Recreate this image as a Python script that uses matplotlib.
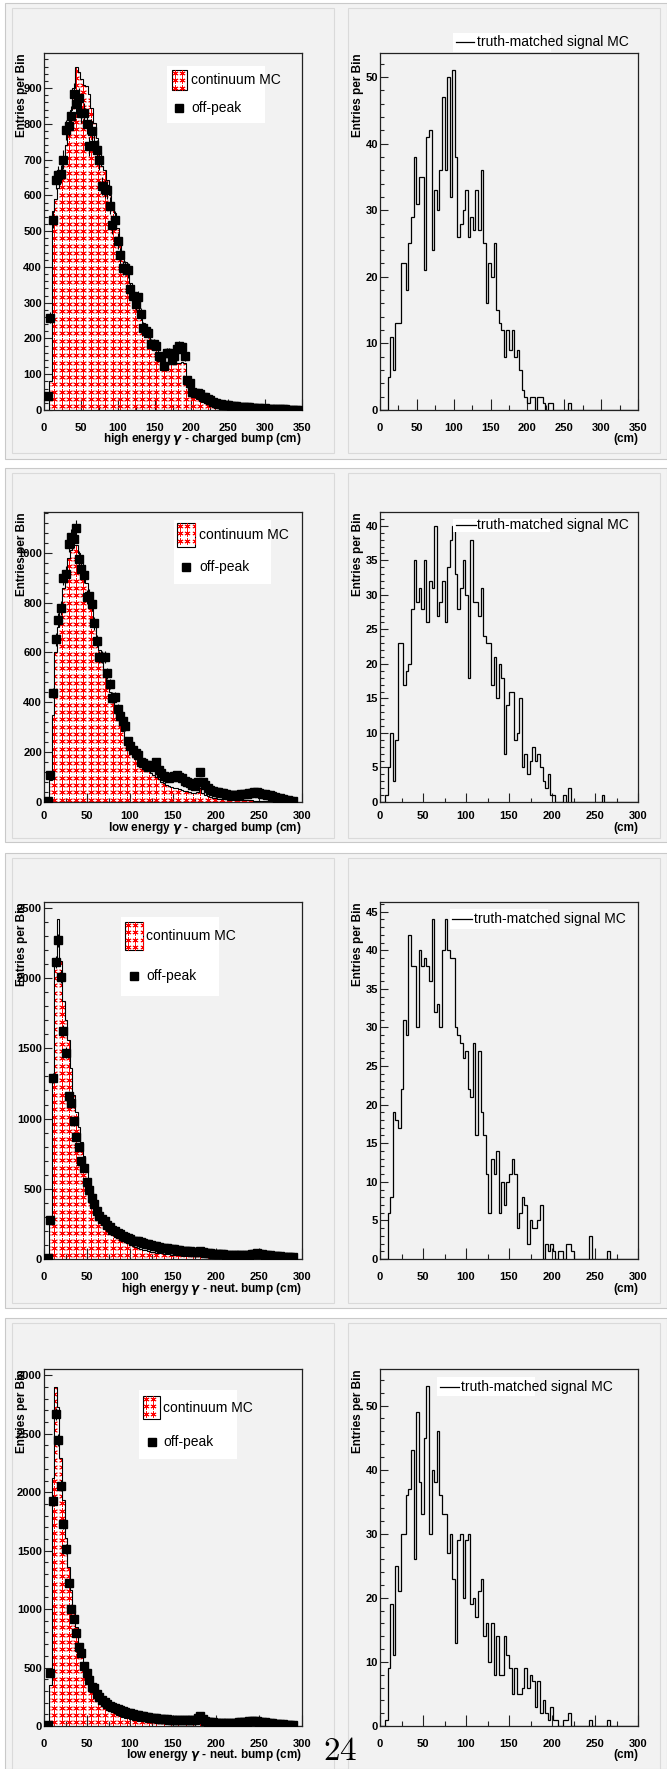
import numpy as np
import matplotlib
matplotlib.use("Agg")
import matplotlib.pyplot as plt
from matplotlib.patches import Rectangle
from matplotlib.lines import Line2D
from matplotlib.ticker import MultipleLocator

W, H = 667, 1769  # output size in pixels (dpi 100)

# ---------------------------------------------------------------
# Entries per bin (100 bins each)
# ---------------------------------------------------------------
# high energy gamma - charged bump (0-350 cm, 3.5 cm bins)
hi_chg_mc = [0, 0, 80, 555, 590, 620, 657, 695, 742, 790,
             840, 900, 958, 944, 925, 909, 905, 883, 845, 803,
             760, 720, 681, 671, 643, 601, 580, 550, 510, 475,
             445, 415, 385, 355, 330, 305, 285, 262, 242, 225,
             210, 195, 183, 170, 160, 150, 142, 135, 130, 128,
             128, 130, 132, 135, 132, 65, 50, 42, 36, 31,
             27, 23, 20, 17, 15, 13, 11, 10, 9, 8,
             7, 6, 6, 5, 5, 4, 4, 3, 3, 3,
             3, 2, 2, 2, 2, 2, 1, 1, 1, 1,
             1, 1, 1, 1, 0, 0, 0, 0, 0, 0]
hi_chg_offpeak = [0, 38, 258, 532, 642, 657, 660, 700, 784, 795,
                  822, 884, 856, 871, 831, 830, 800, 737, 779, 742,
                  728, 698, 626, 618, 616, 571, 516, 532, 472, 432,
                  396, 396, 390, 338, 319, 296, 316, 268, 230, 220,
                  216, 185, 185, 180, 150, 148, 122, 160, 160, 140,
                  150, 170, 180, 175, 150, 85, 75, 50, 47, 48,
                  44, 35, 35, 30, 28, 22, 20, 18, 16, 15,
                  14, 13, 12, 10, 10, 9, 8, 8, 7, 7,
                  6, 6, 5, 5, 4, 5, 4, 3, 3, 3,
                  2, 2, 2, 2, 1, 1, 1, 1, 1, 0]
hi_chg_signal = [0, 0, 0, 5, 11, 6, 13, 13, 22, 22,
                 18, 25, 29, 38, 31, 35, 35, 21, 41, 42,
                 24, 33, 30, 36, 47, 36, 50, 32, 51, 38,
                 26, 28, 30, 33, 26, 29, 27, 33, 27, 36,
                 25, 16, 22, 20, 25, 15, 13, 12, 8, 12,
                 9, 12, 8, 9, 6, 3, 2, 1, 2, 2,
                 0, 2, 2, 1, 0, 1, 1, 0, 0, 0,
                 0, 0, 0, 1, 0, 0, 0, 0, 0, 0,
                 0, 0, 0, 0, 0, 0, 0, 0, 0, 0,
                 0, 0, 0, 0, 0, 0, 0, 0, 0, 0]

# low energy gamma - charged bump (0-300 cm, 3 cm bins)
lo_chg_mc = [0, 0, 90, 350, 600, 700, 780, 860, 920, 980,
             1010, 1030, 1030, 1000, 960, 920, 880, 830, 780, 720,
             660, 610, 560, 520, 480, 440, 400, 370, 340, 310,
             285, 260, 240, 220, 200, 185, 170, 155, 145, 135,
             125, 115, 108, 100, 93, 80, 75, 70, 66, 62,
             58, 55, 52, 49, 46, 43, 40, 38, 36, 40,
             55, 38, 30, 25, 20, 18, 16, 14, 13, 12,
             11, 10, 10, 9, 9, 8, 8, 7, 7, 7,
             7, 6, 6, 5, 5, 5, 4, 4, 3, 3,
             3, 2, 2, 2, 1, 1, 1, 0, 0, 0]
lo_chg_offpeak = [0, 5, 109, 436, 653, 729, 779, 900, 916, 1036,
                  1063, 1053, 1099, 975, 936, 909, 823, 825, 793, 716,
                  645, 583, 583, 580, 516, 473, 419, 420, 372, 343,
                  323, 303, 245, 225, 209, 196, 189, 161, 156, 149,
                  140, 150, 140, 160, 130, 115, 105, 100, 95, 100,
                  105, 108, 100, 95, 85, 80, 75, 70, 65, 80,
                  120, 80, 70, 55, 48, 45, 42, 40, 38, 35,
                  33, 30, 30, 30, 30, 30, 32, 32, 34, 36,
                  38, 42, 40, 36, 34, 32, 30, 28, 25, 22,
                  18, 15, 12, 10, 8, 6, 5, 0, 0, 0]
lo_chg_signal = [0, 0, 1, 5, 10, 3, 9, 23, 23, 17,
                 19, 20, 28, 35, 29, 31, 28, 35, 26, 32,
                 31, 40, 27, 29, 32, 26, 34, 38, 40, 33,
                 28, 31, 35, 30, 18, 38, 29, 29, 27, 31,
                 24, 23, 23, 17, 21, 15, 20, 18, 7, 14,
                 16, 16, 9, 10, 15, 5, 7, 4, 6, 8,
                 6, 7, 5, 3, 2, 4, 1, 1, 0, 0,
                 0, 1, 0, 2, 0, 0, 0, 0, 0, 0,
                 0, 0, 0, 0, 0, 0, 1, 0, 0, 0,
                 0, 0, 0, 0, 0, 0, 0, 0, 0, 0]

# high energy gamma - neutral bump
hi_neu_mc = [0, 0, 290, 1277, 2096, 2421, 2120, 1835, 1704, 1562,
             1360, 1170, 1050, 940, 830, 730, 630, 550, 480, 420,
             370, 330, 295, 265, 240, 220, 200, 180, 165, 150,
             135, 125, 115, 105, 96, 88, 80, 73, 67, 62,
             57, 53, 49, 46, 43, 40, 37, 35, 33, 31,
             29, 27, 25, 24, 22, 21, 20, 19, 18, 18,
             20, 17, 15, 14, 13, 12, 11, 11, 10, 10,
             9, 9, 9, 9, 8, 8, 8, 8, 8, 8,
             8, 8, 8, 7, 7, 6, 6, 5, 5, 4,
             4, 3, 3, 3, 2, 2, 2, 1, 1, 1]
hi_neu_offpeak = [0, 5, 275, 1290, 2115, 2270, 2010, 1625, 1470, 1160,
                  1110, 980, 870, 795, 695, 645, 550, 490, 435, 390,
                  340, 305, 285, 270, 240, 225, 210, 200, 185, 175,
                  165, 160, 150, 140, 130, 130, 125, 120, 115, 110,
                  105, 100, 95, 90, 85, 80, 78, 75, 72, 70,
                  68, 65, 62, 60, 58, 56, 54, 52, 50, 52,
                  55, 50, 45, 42, 40, 38, 36, 35, 34, 33,
                  32, 32, 31, 31, 30, 30, 30, 30, 31, 32,
                  33, 35, 40, 38, 34, 30, 28, 26, 24, 22,
                  20, 18, 17, 16, 15, 14, 12, 0, 0, 0]
hi_neu_signal = [0, 0, 0, 6, 8, 19, 18, 17, 22, 31,
                 29, 42, 38, 38, 30, 40, 38, 39, 38, 36,
                 44, 32, 33, 30, 40, 44, 40, 39, 39, 30,
                 29, 28, 26, 27, 22, 21, 28, 16, 27, 19,
                 16, 11, 6, 13, 11, 14, 6, 10, 7, 10,
                 11, 13, 11, 4, 6, 8, 7, 2, 5, 4,
                 4, 5, 7, 0, 2, 1, 2, 1, 0, 1,
                 1, 0, 2, 2, 1, 0, 0, 0, 0, 0,
                 0, 3, 0, 0, 0, 0, 0, 0, 1, 0,
                 0, 0, 0, 0, 0, 0, 0, 0, 0, 0]

# low energy gamma - neutral bump
lo_neu_mc = [0, 0, 350, 2119, 2903, 2732, 2290, 1933, 1605, 1363,
             1163, 992, 850, 707, 607, 536, 470, 410, 355, 310,
             270, 235, 205, 180, 160, 140, 125, 110, 98, 88,
             80, 72, 65, 59, 54, 50, 46, 43, 40, 37,
             35, 33, 31, 29, 28, 27, 26, 25, 24, 23,
             22, 21, 20, 19, 19, 18, 18, 17, 20, 28,
             35, 22, 15, 13, 12, 11, 10, 10, 9, 9,
             8, 8, 7, 7, 7, 7, 6, 6, 6, 6,
             6, 6, 5, 5, 5, 4, 4, 4, 3, 3,
             3, 2, 2, 2, 2, 1, 1, 1, 1, 1]
lo_neu_offpeak = [0, 5, 456, 1928, 2666, 2446, 2055, 1728, 1514, 1223,
                  998, 912, 792, 678, 627, 513, 456, 393, 336, 322,
                  271, 245, 225, 205, 190, 175, 162, 152, 142, 134,
                  126, 120, 114, 108, 103, 98, 93, 88, 84, 80,
                  76, 72, 68, 65, 62, 60, 58, 56, 55, 54,
                  53, 52, 51, 50, 50, 49, 49, 50, 55, 70,
                  85, 60, 45, 38, 33, 30, 29, 28, 28, 27,
                  27, 26, 26, 27, 28, 30, 32, 35, 38, 40,
                  42, 45, 42, 38, 35, 32, 28, 25, 22, 20,
                  17, 15, 13, 11, 9, 8, 6, 0, 0, 0]
lo_neu_signal = [0, 0, 1, 9, 19, 11, 25, 21, 30, 30,
                 36, 37, 43, 26, 49, 38, 33, 45, 53, 30,
                 40, 38, 46, 36, 33, 33, 27, 30, 23, 13,
                 29, 30, 20, 29, 30, 19, 20, 17, 21, 23,
                 14, 16, 10, 16, 8, 14, 8, 8, 14, 11,
                 9, 5, 9, 5, 5, 6, 9, 6, 8, 7,
                 3, 7, 2, 4, 2, 1, 3, 1, 1, 0,
                 0, 1, 1, 2, 0, 0, 0, 0, 0, 0,
                 0, 1, 0, 0, 0, 0, 0, 0, 1, 0,
                 0, 0, 0, 0, 0, 0, 0, 0, 0, 0]

MC = [hi_chg_mc, lo_chg_mc, hi_neu_mc, lo_neu_mc]
OFFPEAK = [hi_chg_offpeak, lo_chg_offpeak, hi_neu_offpeak, lo_neu_offpeak]
SIGNAL = [hi_chg_signal, lo_chg_signal, hi_neu_signal, lo_neu_signal]

X_TITLES = [r"high energy $\gamma$ - charged bump (cm)",
            r"low energy $\gamma$ - charged bump (cm)",
            r"high energy $\gamma$ - neut. bump (cm)",
            r"low energy $\gamma$ - neut. bump (cm)"]
BIN_WIDTH = [3.5, 3.0, 3.0, 3.0]
X_MAX = [350, 300, 300, 300]
LEFT_YMAX = [998, 1163, 2542, 3054]
LEFT_YSTEP = [100, 200, 500, 500]
RIGHT_YMAX = [53.6, 42.0, 46.25, 55.7]
RIGHT_YSTEP = [10, 5, 5, 10]

# ---------------------------------------------------------------
# Layout, pixels from the top-left corner
# ---------------------------------------------------------------
ROW_Y = [(53, 410), (512, 802), (902, 1259), (1369, 1726)]
LEFT_X = (44, 302)
RIGHT_X = (380, 638)
ROW_CANVAS = [(3, 459), (468, 842), (853, 1308), (1318, 1769)]
ROW_PAD = [(8, 453), (473, 838), (858, 1303), (1323, 1769)]
XLAB_PAD = [9.4, 6.8, 9.4, 9.0]     # pt
XTITLE_OFF = [29, 26, 30, 29]       # px below axis

LEG_LEFT = [  # box, swatch, text x, mc text y, off-peak marker (x, y)
    ((167, 66, 265, 123), (172, 70, 187, 90), 191, 80, (179, 108)),
    ((174, 520, 271, 584), (177, 523, 195, 547), 199, 535, (186, 567)),
    ((121, 917, 219, 996), (125, 922, 143, 950), 146, 936, (134, 976)),
    ((139, 1390, 237, 1459), (143, 1396, 160, 1419), 163, 1408, (152, 1442)),
]
LEG_RIGHT = [  # box, line (x0, x1, y), text x
    ((453, 33, 551, 52), (456, 474, 42), 477),
    ((453, 519, 550, 532), (456, 476, 525), 477),
    ((450, 909, 548, 929), (452, 472, 919), 474),
    ((437, 1377, 535, 1396), (440, 459, 1387), 461),
]

PAD_COLOR = "#f2f2f2"
FRAME = "#222222"
HATCH_STEP = 7.3  # px between asterisks

plt.rcParams["font.family"] = ["Liberation Sans", "DejaVu Sans"]
plt.rcParams["font.weight"] = "bold"
plt.rcParams["mathtext.fontset"] = "dejavusans"


def fx(x):
    return x / W


def fy(y):
    return 1 - y / H


def rect(fig, x0, y0, x1, y1, **kw):
    r = Rectangle((fx(x0), fy(y1)), (x1 - x0) / W, (y1 - y0) / H,
                  transform=fig.transFigure, **kw)
    fig.add_artist(r)
    return r


def asterisks(ax_or_fig, fig, x0, y0, x1, y1, clip, zorder):
    # red asterisk pattern, like the ROOT hatch style
    xs = np.arange(x0 + 3, x1, HATCH_STEP)
    ys = np.arange(y0 + 3, y1, HATCH_STEP)
    gx, gy = np.meshgrid(xs, ys)
    if ax_or_fig is fig:
        art = Line2D(fx(gx.ravel()), fy(gy.ravel()), ls="none", marker=(6, 2, 0),
                     ms=4.3, mew=0.65, color="red", transform=fig.transFigure,
                     zorder=zorder)
        fig.add_artist(art)
    else:
        art = ax_or_fig.scatter(fx(gx.ravel()), fy(gy.ravel()), transform=fig.transFigure,
                                marker=(6, 2, 0), s=18, linewidths=0.65, color="red",
                                zorder=zorder)
    art.set_clip_path(clip)


def style_axes(ax, row, xmax, ymax, ystep):
    ax.set_xlim(0, xmax)
    ax.set_ylim(0, ymax)
    ax.set_facecolor(PAD_COLOR)
    ax.xaxis.set_major_locator(MultipleLocator(50))
    ax.xaxis.set_minor_locator(MultipleLocator(25))
    ax.yaxis.set_major_locator(MultipleLocator(ystep))
    ax.yaxis.set_minor_locator(MultipleLocator(ystep / 5))
    h = ROW_Y[row][1] - ROW_Y[row][0]
    xlen = 0.03 * h * 0.72
    ax.tick_params(which="both", direction="in", top=False, right=False,
                   color=FRAME, width=0.8, labelsize=8)
    ax.tick_params(axis="x", which="major", length=xlen, pad=XLAB_PAD[row])
    ax.tick_params(axis="x", which="minor", length=xlen / 2)
    ax.tick_params(axis="y", which="major", length=5.6, pad=1.5)
    ax.tick_params(axis="y", which="minor", length=2.8)
    for s in ax.spines.values():
        s.set_linewidth(0.9)
        s.set_color(FRAME)
    ax.annotate("Entries per Bin", xy=(0, 1), xycoords="axes fraction",
                xytext=(-22 * 0.72, 0), textcoords="offset points",
                rotation=90, ha="center", va="top", fontsize=8.5)


def add_axes(fig, xr, row):
    y0, y1 = ROW_Y[row]
    return fig.add_axes([fx(xr[0]), fy(y1), (xr[1] - xr[0]) / W, (y1 - y0) / H])


def draw_left(fig, row):
    ax = add_axes(fig, LEFT_X, row)
    bw = BIN_WIDTH[row]
    mc = np.array(MC[row], dtype=float)
    data = np.array(OFFPEAK[row], dtype=float)
    edges = np.arange(len(mc) + 1) * bw
    centers = edges[:-1] + bw / 2

    fill = ax.stairs(mc, edges, fill=True, facecolor="white", edgecolor="none", zorder=1)
    y0, y1 = ROW_Y[row]
    asterisks(ax, fig, LEFT_X[0], y0, LEFT_X[1], y1, fill, 2)
    ax.stairs(mc, edges, color="black", lw=0.8, zorder=3)

    m = data > 0
    ax.errorbar(centers[m], data[m], yerr=np.sqrt(data[m]), xerr=bw / 2, fmt="s",
                ms=5.2, color="black", elinewidth=0.8, capsize=0, zorder=4)

    style_axes(ax, row, X_MAX[row], LEFT_YMAX[row], LEFT_YSTEP[row])
    ax.annotate(X_TITLES[row], xy=(1, 0), xycoords="axes fraction",
                xytext=(0, -XTITLE_OFF[row] * 0.72), textcoords="offset points",
                ha="right", va="center", fontsize=8.5)

    # legend
    box, sw, tx, ty, (mx, my) = LEG_LEFT[row]
    rect(fig, *box, facecolor="white", edgecolor="none", zorder=5)
    swr = rect(fig, *sw, facecolor="white", edgecolor="black", lw=0.8, zorder=6)
    asterisks(fig, fig, sw[0], sw[1], sw[2], sw[3], swr, 7)
    fig.text(fx(tx), fy(ty), "continuum MC", fontsize=10, fontweight="normal",
             va="center", ha="left", zorder=8)
    fig.add_artist(Line2D([fx(mx)], [fy(my)], marker="s", ms=5.2, color="black",
                          ls="none", transform=fig.transFigure, zorder=8))
    fig.text(fx(tx), fy(my), "off-peak", fontsize=10, fontweight="normal",
             va="center", ha="left", zorder=8)


def draw_right(fig, row):
    ax = add_axes(fig, RIGHT_X, row)
    bw = BIN_WIDTH[row]
    sig = np.array(SIGNAL[row], dtype=float)
    edges = np.arange(len(sig) + 1) * bw
    ax.stairs(sig, edges, color="black", lw=0.9, zorder=3)

    style_axes(ax, row, X_MAX[row], RIGHT_YMAX[row], RIGHT_YSTEP[row])
    ax.annotate("(cm)", xy=(1, 0), xycoords="axes fraction",
                xytext=(0, -XTITLE_OFF[row] * 0.72), textcoords="offset points",
                ha="right", va="center", fontsize=8.5)

    box, (lx0, lx1, ly), tx = LEG_RIGHT[row]
    rect(fig, *box, facecolor="white", edgecolor="none", zorder=5)
    fig.add_artist(Line2D([fx(lx0), fx(lx1)], [fy(ly), fy(ly)], color="black", lw=0.9,
                          transform=fig.transFigure, zorder=8))
    fig.text(fx(tx), fy(ly), "truth-matched signal MC", fontsize=10,
             fontweight="normal", va="center", ha="left", zorder=8)


if __name__ == "__main__":
    fig = plt.figure(figsize=(W / 100, H / 100), dpi=100)
    fig.patch.set_facecolor("white")

    # ROOT canvases and pads
    for (cy0, cy1), (py0, py1) in zip(ROW_CANVAS, ROW_PAD):
        rect(fig, 5, cy0, 667, cy1, facecolor="#f3f3f3", edgecolor="#c9c9c9", lw=0.8, zorder=-6)
        rect(fig, 12, py0, 334, py1, facecolor=PAD_COLOR, edgecolor="#dadada", lw=0.8, zorder=-5)
        rect(fig, 348, py0, 660, py1, facecolor=PAD_COLOR, edgecolor="#dadada", lw=0.8, zorder=-5)

    for row in range(4):
        draw_left(fig, row)
        draw_right(fig, row)

    # page number
    fig.text(fx(340), fy(1751), r"$24$", math_fontfamily="cm", fontsize=24,
             fontweight="normal", ha="center", va="center", zorder=9)

    fig.savefig("out.png", dpi=100)
